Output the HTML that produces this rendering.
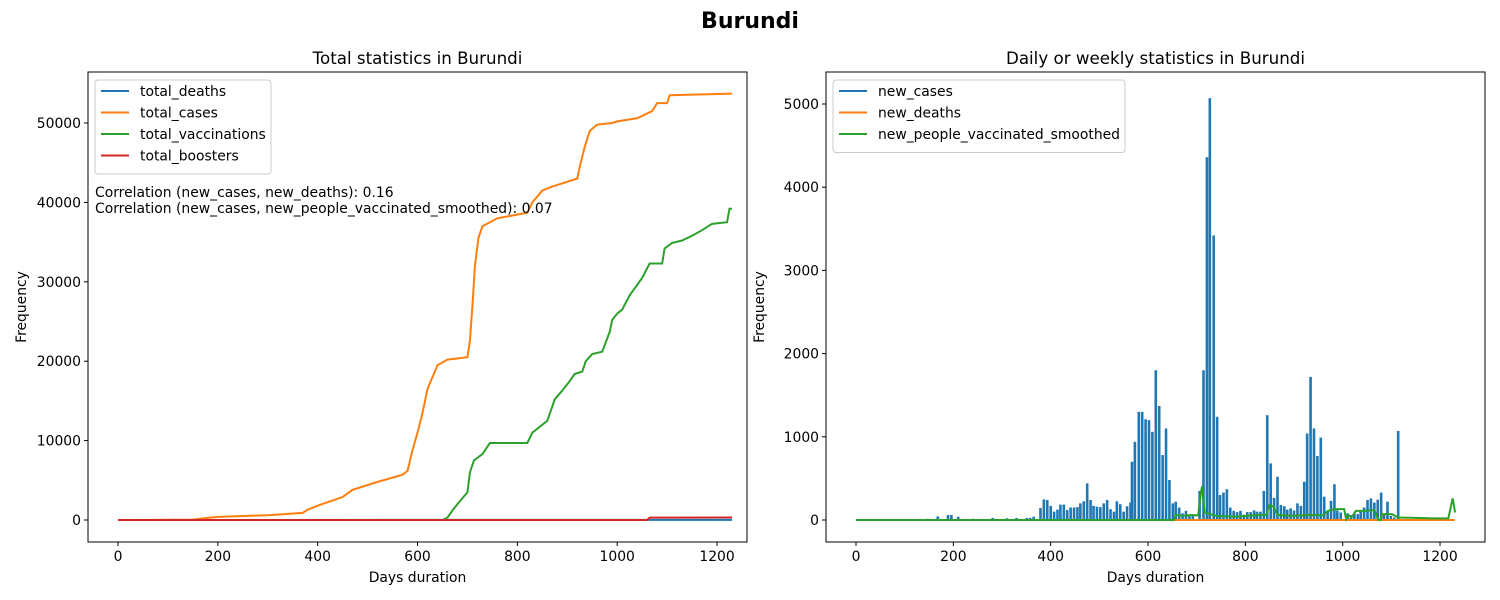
<!DOCTYPE html>
<html><head><meta charset="utf-8"><style>
body{margin:0;background:#fff;}
svg{display:block;font-family:"DejaVu Sans","Liberation Sans",sans-serif;}
</style></head><body>
<svg id="fig" width="1500" height="600" viewBox="0 0 1500 600">
<text x="750" y="28" text-anchor="middle" font-size="22" font-weight="bold">Burundi</text>
</svg>
<script>
// ---- Left chart data ----
const casesDays = [0,150,170,200,300,370,380,400,450,470,520,570,580,590,600,610,620,640,660,700,705,710,715,722,730,760,820,830,850,870,920,925,935,945,960,990,1000,1040,1070,1080,1100,1105,1230];
const casesVals = [0,50,200,400,600,900,1300,1800,2900,3800,4800,5700,6200,8800,11000,13500,16500,19500,20200,20500,22600,27000,32000,35500,37000,38000,38700,40000,41500,42000,43000,44500,47000,49000,49800,50000,50200,50600,51500,52500,52500,53500,53700];
const vaccDays = [0,650,660,670,680,700,705,713,730,745,820,830,860,875,890,905,915,930,937,950,970,985,990,1000,1010,1025,1040,1050,1065,1090,1095,1110,1130,1150,1170,1190,1220,1225,1230];
const vaccVals = [0,0,300,1200,2000,3500,6000,7500,8300,9700,9700,11000,12500,15200,16300,17500,18400,18700,20000,20900,21200,23700,25200,26000,26500,28300,29600,30500,32300,32300,34200,34900,35200,35800,36500,37300,37500,39200,39200];
const deathsDays = [0,300,600,900,1230];
const deathsVals = [0,5,10,14,15];
const boostDays = [0,1060,1065,1230];
const boostVals = [0,0,300,320];
const leftYTicks = [0,10000,20000,30000,40000,50000];
const xTicks = [0,200,400,600,800,1000,1200];
// ---- Right chart data ----
const ncDays = [112,147,168,189,196,210,240,281,310,330,351,358,365,379,386,393,400,407,414,420,427,434,441,448,455,461,468,475,482,488,495,502,509,516,523,530,536,543,550,557,564,567,573,581,588,595,602,609,616,623,630,637,644,651,657,664,671,678,685,692,706,714,721,727,735,742,748,755,762,769,776,783,790,797,804,811,818,824,831,838,845,852,859,866,873,880,886,893,900,907,914,921,927,934,941,948,955,962,969,976,983,989,996,1010,1017,1024,1031,1037,1044,1051,1058,1065,1072,1079,1085,1092,1099,1106,1114,1130,1160,1190];
const ncVals = [10,15,43,60,60,40,15,25,20,25,25,25,40,144,248,240,170,100,125,185,185,120,150,150,155,200,225,440,240,170,160,155,200,240,130,100,225,190,100,165,210,700,940,1300,1300,1210,1200,1060,1800,1370,780,1100,480,200,220,150,80,110,65,60,350,1800,4360,5070,3420,1240,300,330,370,150,110,95,110,65,95,95,115,100,100,350,1260,680,265,520,180,165,125,140,115,200,170,460,1040,1720,1100,770,990,280,115,230,430,115,90,80,60,80,70,100,150,240,260,210,245,330,70,220,50,30,1070,10,10,10];
const ndDays = [0,1230];
const ndVals = [0,0];
const vsDays = [0,653,657,670,690,703,708,711,716,740,780,830,843,849,858,866,900,930,960,970,983,1003,1007,1012,1018,1027,1044,1065,1073,1078,1080,1101,1114,1150,1185,1217,1226,1231];
const vsVals = [0,0,60,50,60,55,300,408,90,50,40,60,60,175,160,60,50,60,55,110,130,130,10,60,30,110,110,120,0,0,70,70,30,25,20,20,260,90];
const rightYTicks = [0,1000,2000,3000,4000,5000];

const NS='http://www.w3.org/2000/svg';
const svg=document.getElementById('fig');
const FS=13.9;
function mk(tag,attrs,parent){const e=document.createElementNS(NS,tag);for(const k in attrs)e.setAttribute(k,attrs[k]);(parent||svg).appendChild(e);return e;}

function axes(cfg){
  const g=mk('g',{});
  
  
  const {L,R,T,B}=cfg;
  const xs=d=>cfg.x0+d*cfg.xk, ys=v=>cfg.y0-v*cfg.yk;
  const t=mk('text',{x:(L+R)/2,y:T-8,'text-anchor':'middle','font-size':16.7},g);t.textContent=cfg.title;
  
  
  xTicks.forEach(v=>{const x=xs(v);mk('line',{x1:x,x2:x,y1:B,y2:B+4,stroke:'#000'},g);
    const tt=mk('text',{x:x,y:B+19,'text-anchor':'middle','font-size':FS},g);tt.textContent=v;
    
    });
  cfg.yTicks.forEach(v=>{const y=ys(v);mk('line',{x1:L-4,x2:L,y1:y,y2:y,stroke:'#000'},g);
    const tt=mk('text',{x:L-7,y:y+5,'text-anchor':'end','font-size':FS},g);tt.textContent=v;
    
    });
  const xl=mk('text',{x:(L+R)/2,y:582,'text-anchor':'middle','font-size':FS},g);xl.textContent='Days duration';
  
  
  const yl=mk('text',{x:0,y:0,'text-anchor':'middle','font-size':FS,transform:`translate(${L-62},${(T+B)/2}) rotate(-90)`},g);yl.textContent='Frequency';
  
  
  const clip=mk('g',{},g);
  cfg.draw(clip,xs,ys);
  mk('rect',{x:L,y:T,width:R-L,height:B-T,fill:'none',stroke:'#000','stroke-width':1},g);
  const lg=mk('g',{},g);
  
  
  mk('rect',{x:L+7,y:T+8,width:cfg.legW,height:cfg.items.length*21.5+8,rx:3,fill:'#fff','fill-opacity':0.8,stroke:'#ccc'},lg);
  cfg.items.forEach((it,i)=>{const y=T+19+i*21.5;
    mk('line',{x1:L+13,x2:L+41,y1:y,y2:y,stroke:it[1],'stroke-width':2},lg);
    const tt=mk('text',{x:L+52,y:y+5,'font-size':FS},lg);tt.textContent=it[0];
    
    });
  return g;
}
function line(g,xs,ys,D,V,color,name){
  const p=mk('polyline',{points:D.map((d,i)=>xs(d)+','+ys(V[i])).join(' '),fill:'none',stroke:color,'stroke-width':2},g);
  
  
}

axes({name:'total-statistics-chart',L:88,R:747,T:72,B:542,x0:118,xk:0.4992,y0:520,yk:0.00794,yTicks:leftYTicks,
  title:'Total statistics in Burundi',legW:176,
  items:[['total_deaths','#1f77b4'],['total_cases','#ff7f0e'],['total_vaccinations','#2ca02c'],['total_boosters','#d62728']],
  draw:(g,xs,ys)=>{
    line(g,xs,ys,deathsDays,deathsVals,'#1f77b4','total-deaths-line');
    line(g,xs,ys,casesDays,casesVals,'#ff7f0e','total-cases-line');
    line(g,xs,ys,vaccDays,vaccVals,'#2ca02c','total-vaccinations-line');
    line(g,xs,ys,boostDays,boostVals,'#d62728','total-boosters-line');
  }});
const a1=mk('text',{x:95,y:197,'font-size':FS});a1.textContent='Correlation (new_cases, new_deaths): 0.16';


const a2=mk('text',{x:95,y:213,'font-size':FS});a2.textContent='Correlation (new_cases, new_people_vaccinated_smoothed): 0.07';



axes({name:'daily-statistics-chart',L:826,R:1485,T:72,B:542,x0:856,xk:0.4867,y0:520,yk:0.0832,yTicks:rightYTicks,
  title:'Daily or weekly statistics in Burundi',legW:292,
  items:[['new_cases','#1f77b4'],['new_deaths','#ff7f0e'],['new_people_vaccinated_smoothed','#2ca02c']],
  draw:(g,xs,ys)=>{
    mk('line',{x1:xs(0),x2:xs(1230),y1:ys(0),y2:ys(0),stroke:'#1f77b4','stroke-width':2},g);
    ncDays.forEach((d,i)=>{const r=mk('rect',{x:xs(d)-1.3,y:ys(ncVals[i]),width:2.6,height:ys(0)-ys(ncVals[i]),fill:'#1f77b4'},g);
      
      });
    line(g,xs,ys,ndDays,ndVals,'#ff7f0e','new-deaths-line');
    line(g,xs,ys,vsDays,vsVals,'#2ca02c','new-vaccinated-line');
  }});
</script>
</body></html>
